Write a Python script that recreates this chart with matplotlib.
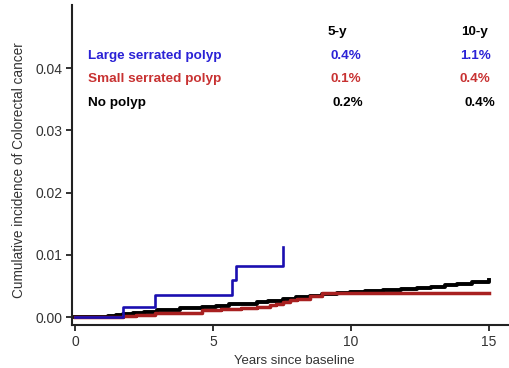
import matplotlib; matplotlib.use("Agg")
import matplotlib.pyplot as plt

plt.rcParams['font.family'] = ['Liberation Sans', 'DejaVu Sans']

# step data (years, cumulative incidence)
large_t = [0.0, 1.75, 2.9, 5.69, 5.83, 7.54, 7.54]
large_y = [0.0, 0.0017, 0.0036, 0.0060, 0.0083, 0.0113, 0.0113]

small_t = [0.0, 1.75, 2.2, 2.9, 4.6, 5.3, 6.0, 6.6, 7.07, 7.3, 7.54, 7.8, 8.03, 8.5, 8.94, 15.0]
small_y = [0.0, 0.0002, 0.0004, 0.0006, 0.0011, 0.0013, 0.0015, 0.0017, 0.0020, 0.0022, 0.0025, 0.0028, 0.0030, 0.0034, 0.0039, 0.0039]

none_t = [0.0, 0.9, 1.2, 1.5, 1.75, 2.1, 2.5, 2.96, 3.4, 3.8, 4.17, 4.6, 5.1, 5.6, 6.1, 6.58, 7.0, 7.54, 8.0, 8.5, 8.94,
          9.5, 9.96, 10.5, 11.17, 11.8, 12.38, 12.9, 13.4, 13.83, 14.4, 15.0]
none_y = [0.0, 0.0001, 0.0002, 0.0004, 0.0005, 0.0007, 0.0009, 0.0011, 0.0012, 0.0014, 0.0015, 0.0017, 0.0018, 0.0021, 0.0022, 0.0024,
          0.0026, 0.0029, 0.0032, 0.0034, 0.0037, 0.0039, 0.0041, 0.0042, 0.0044, 0.0045, 0.0047, 0.0049, 0.0051, 0.0053, 0.0056, 0.0059]

rows = ["Large serrated polyp", "Small serrated polyp", "No polyp"]
five_y = ["0.4%", "0.1%", "0.2%"]
ten_y = ["1.1%", "0.4%", "0.4%"]
row_cols = ["#2b22d6", "#c83232", "black"]

fig = plt.figure(figsize=(5.1, 3.68), dpi=100)
ax = fig.add_axes([0.141, 0.117, 0.855, 0.869])

ax.plot(none_t, none_y, drawstyle="steps-post", color="black", lw=2.8, zorder=2)
ax.plot(small_t, small_y, drawstyle="steps-post", color="#a82020", lw=2.5, zorder=3)
ax.plot(large_t, large_y, drawstyle="steps-post", color="#1a0fb0", lw=1.9, zorder=4)

ax.set_xlim(-0.109, 15.69)
ax.set_ylim(-0.00124, 0.0501)
ax.set_xticks([0, 5, 10, 15])
ax.set_yticks([0, 0.01, 0.02, 0.03, 0.04])
ax.set_yticklabels(["0.00", "0.01", "0.02", "0.03", "0.04"])
for s in ["top", "right"]:
    ax.spines[s].set_visible(False)
for s in ["left", "bottom"]:
    ax.spines[s].set_linewidth(1.5)
    ax.spines[s].set_color("#222222")
ax.tick_params(length=4, width=1.3, labelsize=10, colors="#222222", labelcolor="#333333", pad=3)
ax.set_xlabel("Years since baseline", fontsize=9.5, color="#333333")
ax.xaxis.set_label_coords(0.51, -0.095)
ax.set_ylabel("Cumulative incidence of Colorectal cancer", fontsize=9.8, color="#333333")
ax.yaxis.set_label_coords(-0.105, 0.485)

row_y = [0.0419, 0.0382, 0.0344]
for i in range(3):
    ax.text(0.47, row_y[i], rows[i], color=row_cols[i], fontsize=9.7, fontweight="bold", va="center", ha="left")
    ax.text(9.8 + (0.08 if i == 2 else 0), row_y[i], five_y[i], color=row_cols[i], fontsize=9.7, fontweight="bold", va="center", ha="center")
    ax.text(14.5 + (0.17 if i == 2 else 0), row_y[i], ten_y[i], color=row_cols[i], fontsize=9.7, fontweight="bold", va="center", ha="center")
ax.text(9.5, 0.0458, "5-y", fontsize=9.7, fontweight="bold", va="center", ha="center")
ax.text(14.46, 0.0458, "10-y", fontsize=9.7, fontweight="bold", va="center", ha="center")

fig.savefig("out.png", dpi=100)
